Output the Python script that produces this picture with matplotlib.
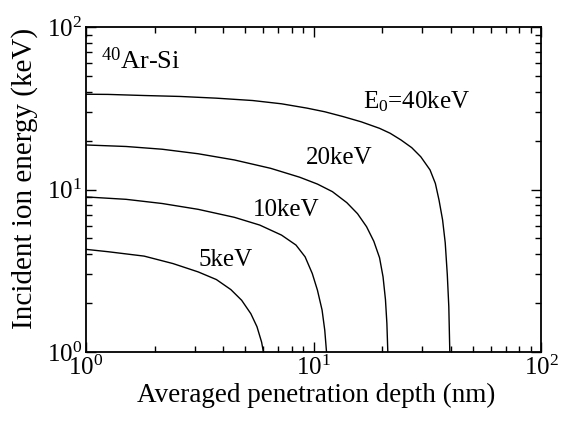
import matplotlib
matplotlib.use("Agg")
import matplotlib.pyplot as plt
from matplotlib.ticker import LogLocator, NullFormatter

plt.rcParams['font.family'] = ['Liberation Serif', 'DejaVu Serif']
plt.rcParams['mathtext.fontset'] = 'custom'
plt.rcParams['mathtext.rm'] = 'Liberation Serif'
plt.rcParams['mathtext.it'] = 'Liberation Serif:italic'
plt.rcParams['mathtext.bf'] = 'Liberation Serif:bold'

# depth (nm) vs incident ion energy (keV)
depth_40 = [1.0, 1.25, 1.80, 2.59, 3.74, 5.40, 7.23, 9.35, 11.2, 13.5, 16.2, 19.5,
            21.7, 24.2, 27.0, 29.6, 32.5, 34.3, 35.6, 36.9, 37.9, 38.7, 39.3, 39.7]
energy_40 = [38.6, 38.5, 37.9, 37.4, 36.5, 35.3, 33.7, 31.7, 30.1, 28.1, 26.1, 23.8,
             22.2, 20.2, 18.1, 15.9, 13.2, 10.9, 8.6, 6.5, 4.7, 3.0, 1.9, 1.0]

depth_20 = [1.0, 1.50, 2.16, 3.11, 4.49, 6.48, 8.69, 10.4, 12.1, 14.0, 15.6, 17.1,
            18.4, 19.5, 20.2, 20.7, 21.0, 21.2]
energy_20 = [18.8, 18.4, 17.7, 16.6, 15.2, 13.5, 11.9, 10.8, 9.7, 8.3, 7.1, 5.9,
             4.8, 3.8, 2.9, 2.1, 1.5, 1.0]

depth_10 = [1.0, 1.50, 2.16, 3.11, 4.49, 5.80, 7.23, 8.37, 9.18, 9.87, 10.4, 10.9, 11.2, 11.4]
energy_10 = [9.0, 8.7, 8.2, 7.55, 6.74, 6.04, 5.24, 4.55, 3.85, 3.04, 2.40, 1.81, 1.36, 1.0]

depth_5 = [1.0, 1.25, 1.80, 2.41, 3.11, 3.74, 4.33, 4.83, 5.30, 5.64, 5.91, 6.02]
energy_5 = [4.28, 4.14, 3.89, 3.50, 3.11, 2.79, 2.42, 2.08, 1.72, 1.43, 1.15, 1.0]

curves = [(depth_40, energy_40), (depth_20, energy_20),
          (depth_10, energy_10), (depth_5, energy_5)]

fig = plt.figure(figsize=(5.66, 4.23), dpi=100)
ax = fig.add_axes([0.152, 0.168, 0.804, 0.768])

for d, e in curves:
    ax.plot(d, e, color='black', lw=1.0)

ax.set_xscale('log')
ax.set_yscale('log')
ax.set_xlim(1, 100)
ax.set_ylim(1, 100)

ax.xaxis.set_minor_locator(LogLocator(base=10, subs=range(2, 10)))
ax.yaxis.set_minor_locator(LogLocator(base=10, subs=range(2, 10)))
ax.xaxis.set_minor_formatter(NullFormatter())
ax.yaxis.set_minor_formatter(NullFormatter())
ax.tick_params(which='both', direction='in', top=True, right=True,
               labelsize=18, width=1.0, pad=3)
ax.tick_params(which='major', length=7)
ax.tick_params(which='minor', length=4.5)
for s in ax.spines.values():
    s.set_linewidth(1.3)

ax.set_xlabel('Averaged penetration depth (nm)', fontsize=19.5)
ax.set_ylabel('Incident ion energy (keV)', fontsize=21)
ax.xaxis.set_label_coords(0.505, -0.095)
ax.yaxis.set_label_coords(-0.105, 0.535)

ax.text(1.158, 62.3, '$^{40}$Ar-Si', fontsize=19, va='center', ha='left')
ax.text(16.5, 34.5, 'E$_0$=40keV', fontsize=18, va='center', ha='left')
ax.text(9.28, 15.6, '20keV', fontsize=18, va='center', ha='left')
ax.text(5.39, 7.51, '10keV', fontsize=18, va='center', ha='left')
ax.text(3.11, 3.66, '5keV', fontsize=18, va='center', ha='left')

fig.savefig('out.png', dpi=100)
